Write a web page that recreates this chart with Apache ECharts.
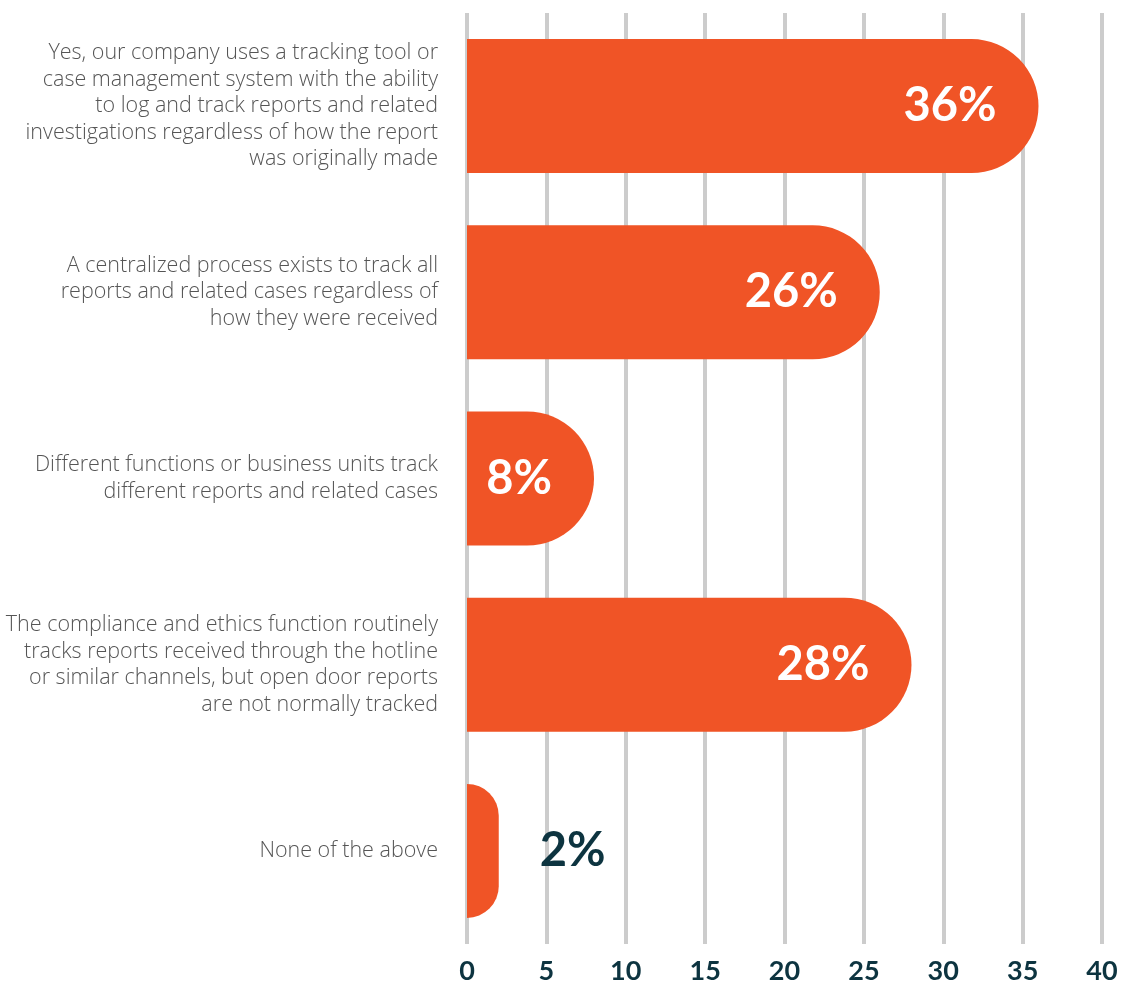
<!DOCTYPE html>
<html>
<head>
<meta charset="utf-8">
<script src="https://cdn.jsdelivr.net/npm/echarts@6/dist/echarts.min.js"></script>
<style>
  html, body { margin: 0; padding: 0; background: #ffffff; }
  #chart { width: 1122px; height: 985px; }
</style>
</head>
<body>
<div id="chart"></div>
<script>
// Response options (top to bottom) and share of respondents (%)
const categories = [
  'Yes, our company uses a tracking tool or\ncase management system with the ability\nto log and track reports and related\ninvestigations regardless of how the report\nwas originally made',
  'A centralized process exists to track all\nreports and related cases regardless of\nhow they were received',
  'Different functions or business units track\ndifferent reports and related cases',
  'The compliance and ethics function routinely\ntracks reports received through the hotline\nor similar channels, but open door reports\nare not normally tracked',
  'None of the above'
];
const shares = [36, 26, 8, 28, 2];
const xTicks = { min: 0, max: 40, interval: 5 };

const ORANGE = '#F05426';
const DARK = '#0D3440';

const barData = shares.map(function (v) {
  const small = v < 5;
  return {
    value: v,
    label: small
      ? { position: 'right', distance: 41, color: DARK }
      : { position: 'insideRight', distance: 42, color: '#ffffff' }
  };
});

const chart = echarts.init(document.getElementById('chart'));
chart.setOption({
  animation: false,
  grid: { left: 467, right: 20, top: 13, bottom: 40, containLabel: false },
  xAxis: {
    type: 'value',
    min: xTicks.min,
    max: xTicks.max,
    interval: xTicks.interval,
    axisLine: { show: false },
    axisTick: { show: false },
    splitLine: { show: true, lineStyle: { color: '#CCCCCC', width: 4 } },
    axisLabel: {
      margin: 14,
      color: DARK,
      fontFamily: 'Lato',
      fontWeight: 'bold',
      fontSize: 27
    }
  },
  yAxis: {
    type: 'category',
    inverse: true,
    data: categories,
    axisLine: { show: false },
    axisTick: { show: false },
    axisLabel: {
      margin: 29,
      color: '#555555',
      fontFamily: 'Open Sans',
      fontWeight: 300,
      fontSize: 21.5,
      lineHeight: 26.5,
      align: 'right'
    }
  },
  series: [{
    type: 'bar',
    data: barData,
    barWidth: 134,
    itemStyle: { color: ORANGE, borderRadius: [0, 67, 67, 0] },
    label: {
      show: true,
      formatter: '{c}%',
      fontFamily: 'Lato',
      fontWeight: 'bold',
      fontSize: 47
    }
  }]
});
</script>
</body>
</html>
